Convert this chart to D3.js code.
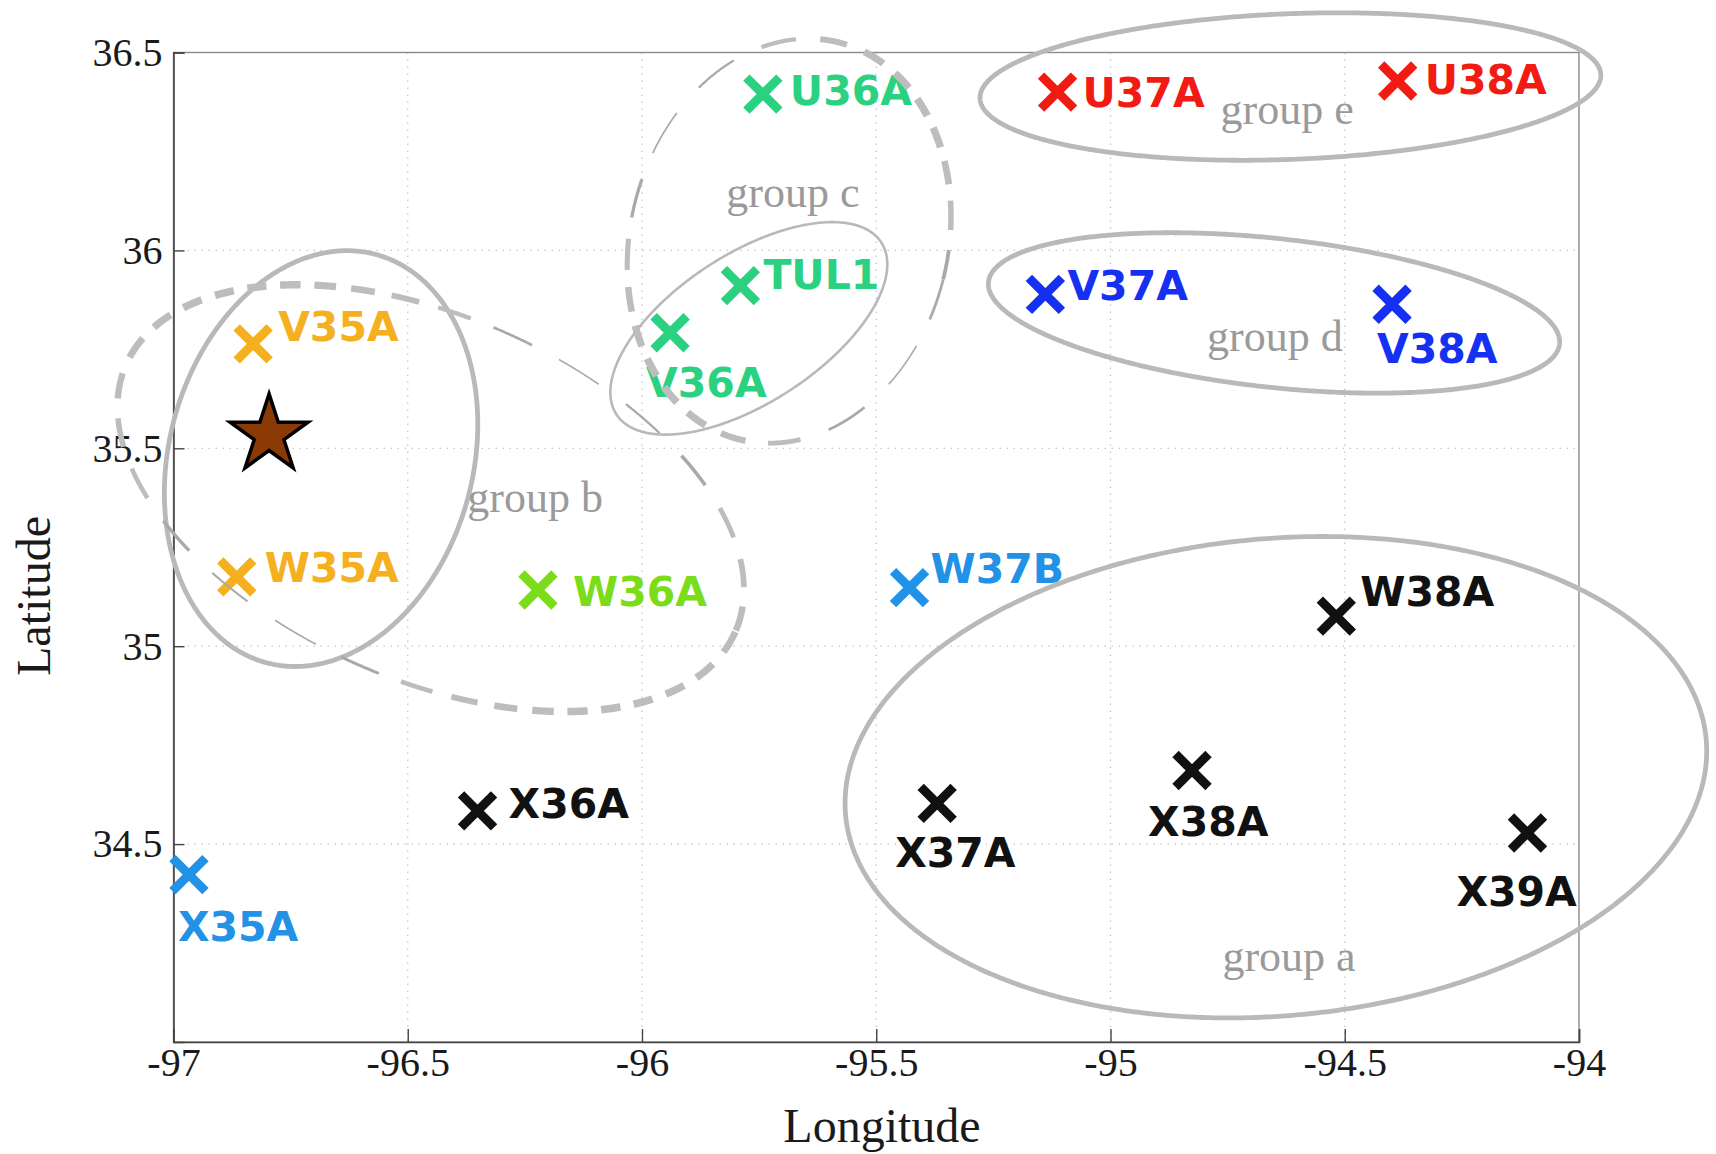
<!DOCTYPE html>
<html><head><meta charset="utf-8">
<script src="https://cdn.jsdelivr.net/npm/d3@7"></script>
<style>body{margin:0;background:#fff}svg{display:block}</style>
</head><body>
<svg id="chart" width="1716" height="1154"></svg>
<script>
// ---------------- data ----------------
const stations = ["U36A","U37A","U38A","TUL1","V35A","V36A","V37A","V38A","W35A","W36A","W37B","W38A","X35A","X36A","X37A","X38A","X39A"];
const stationLon = [-95.742,-95.113,-94.387,-95.790,-96.830,-95.940,-95.139,-94.399,-96.865,-96.222,-95.429,-94.518,-96.967,-96.351,-95.370,-94.826,-94.110];
const stationLat = [36.395,36.400,36.428,35.911,35.764,35.792,35.889,35.864,35.175,35.142,35.148,35.076,34.423,34.584,34.603,34.686,34.528];
const stationColor = ["#2ad181","#f21b14","#f21b14","#2ad181","#f5b01f","#2ad181","#1530f0","#1530f0","#f5b01f","#7bdc1a","#2192e6","#111111","#2192e6","#111111","#111111","#111111","#111111"];
const epicenterLon = [-96.796];
const epicenterLat = [35.534];
const xTicks = [-97,-96.5,-96,-95.5,-95,-94.5,-94];
const yTicks = [34.5,35,35.5,36,36.5];
const xDomain = [-97,-94];
const yDomain = [34,36.5];
const xTitle = "Longitude";
const yTitle = "Latitude";
// group annotations (ellipses: centre lon/lat, semi-axes in degrees, rotation)
const groupNames = ["group a","group b","group c","group d","group e"];
const groupLabelLon = [-94.619,-96.228,-95.678,-94.649,-94.623];
const groupLabelLat = [34.205,35.364,36.135,35.771,36.345];
const ellipseId   = ["a","b","c","d","e","b2","c2"];
const ellipseLon  = [-94.647,-96.685,-95.772,-94.651,-94.616,-96.451,-95.686];
const ellipseLat  = [34.669,35.474,35.803,35.842,36.414,35.374,36.024];
const ellipseRx   = [0.922,0.3245,0.337,0.613,0.663,0.710,0.339];
const ellipseRy   = [0.603,0.534,0.188,0.188,0.184,0.459,0.517];
const ellipseRot  = [-5,15,-33,6.2,-2.2,23.7,14];
const ellipseDashed = [false,false,false,false,false,true,true];

// ---------------- layout ----------------
const svg = d3.select("#chart");
const L = 173.5, R = 1579, T = 52.5, B = 1042;
const x = d3.scaleLinear().domain(xDomain).range([L, R]);
const y = d3.scaleLinear().domain(yDomain).range([B, T]);
const grey = "#b9b9b9";
const labelOffsets = {U36A:[27,-4],U37A:[25,0],U38A:[27,-2],TUL1:[23,-11],V35A:[25,-18],W35A:[28,-10],
  W36A:[35,1],V37A:[22,-9],W37B:[21,-19],W38A:[24,-25],X36A:[31,-8],V36A:[-24,50],V38A:[-15,44],
  X35A:[-11,52],X37A:[-42,49],X38A:[-44,51],X39A:[-71,58]};
const ellipseStyle = {a:{w:4.8},b:{w:4.8},c:{w:2.6},d:{w:4.8},e:{w:4.8},b2:{phase:45},c2:{phase:310}};

// grid
const grid = svg.append("g");
grid.selectAll(".gx").data(xTicks.filter(d => d > xDomain[0] && d < xDomain[1])).join("line")
  .attr("x1", d => x(d)).attr("x2", d => x(d)).attr("y1", T).attr("y2", B)
  .attr("stroke", "#c8c8c8").attr("stroke-width", 1.3).attr("stroke-dasharray", "1.5,5.5");
grid.selectAll(".gy").data(yTicks.filter(d => d > yDomain[0] && d < yDomain[1])).join("line")
  .attr("y1", d => y(d)).attr("y2", d => y(d)).attr("x1", L).attr("x2", R)
  .attr("stroke", "#c8c8c8").attr("stroke-width", 1.3).attr("stroke-dasharray", "1.5,5.5");

// frame
svg.append("rect").attr("x", L).attr("y", T).attr("width", R - L).attr("height", B - T)
  .attr("fill", "none").attr("stroke", "#8a8a8a").attr("stroke-width", 1.4);

// axes
const fmt = d => String(d);
const xAxis = svg.append("g").attr("transform", `translate(0,${B})`)
  .call(d3.axisBottom(x).tickValues(xTicks).tickFormat(fmt).tickSize(-13).tickPadding(6));
const yAxis = svg.append("g").attr("transform", `translate(${L},0)`)
  .call(d3.axisLeft(y).tickValues(yTicks).tickFormat(fmt).tickSize(-11).tickPadding(11));
[xAxis, yAxis].forEach(a => {
  a.select(".domain").attr("stroke", "#444").attr("stroke-width", 1.6);
  a.selectAll(".tick line").attr("stroke", "#444").attr("stroke-width", 1.4);
  a.selectAll(".tick text").attr("fill", "#1a1a1a")
    .style("font-family", "'Liberation Serif', serif").style("font-size", "40px");
});

// titles
svg.append("text").attr("x", 882).attr("y", 1142).attr("text-anchor", "middle")
  .style("font-family", "'Liberation Serif', serif").style("font-size", "48px").attr("fill", "#1a1a1a").text(xTitle);
svg.append("text").attr("transform", "translate(50,596) rotate(-90)").attr("text-anchor", "middle")
  .style("font-family", "'Liberation Serif', serif").style("font-size", "48px").attr("fill", "#1a1a1a").text(yTitle);

// station markers and labels
const st = stations.map((s, i) => ({name: s, lon: stationLon[i], lat: stationLat[i], color: stationColor[i]}));
const mk = svg.append("g");
const h = 16.5;
mk.selectAll("path.x").data(st).join("path")
  .attr("d", d => { const cx = x(d.lon), cy = y(d.lat);
    return `M${cx-h},${cy-h}L${cx+h},${cy+h}M${cx-h},${cy+h}L${cx+h},${cy-h}`; })
  .attr("stroke", d => d.color).attr("stroke-width", 9).attr("fill", "none");
mk.selectAll("text").data(st).join("text")
  .attr("x", d => x(d.lon) + labelOffsets[d.name][0])
  .attr("y", d => y(d.lat) + labelOffsets[d.name][1])
  .attr("dy", "0.36em")
  .attr("fill", d => d.color)
  .style("font-family", "'DejaVu Sans', sans-serif").style("font-weight", "bold").style("font-size", "41px")
  .text(d => d.name);

// ellipses
const lineGen = d3.line();
function ellipsePts(i, n) {
  const cx = x(ellipseLon[i]), cy = y(ellipseLat[i]);
  const rx = Math.abs(x(ellipseLon[i] + ellipseRx[i]) - cx);
  const ry = Math.abs(y(ellipseLat[i] + ellipseRy[i]) - cy);
  const th = ellipseRot[i] * Math.PI / 180;
  const pts = [];
  for (let k = 0; k <= n; k++) {
    const t = 2 * Math.PI * k / n, ex = rx * Math.cos(t), ey = ry * Math.sin(t);
    pts.push([cx + ex * Math.cos(th) - ey * Math.sin(th), cy + ex * Math.sin(th) + ey * Math.cos(th)]);
  }
  return {pts, cx, cy};
}
const eg = svg.append("g");
ellipseId.forEach((id, i) => {
  if (!ellipseDashed[i]) {
    const {pts} = ellipsePts(i, 720);
    eg.append("path").attr("d", lineGen(pts) + "Z").attr("fill", "none")
      .attr("stroke", grey).attr("stroke-width", ellipseStyle[id].w);
  } else {
    const {pts, cx, cy} = ellipsePts(i, 3000);
    const cum = [0];
    for (let k = 1; k < pts.length; k++) cum.push(cum[k-1] + Math.hypot(pts[k][0]-pts[k-1][0], pts[k][1]-pts[k-1][1]));
    const total = cum[cum.length - 1];
    let s = 0, k = 0;
    const phase = ellipseStyle[id].phase;
    while (s < total - 5) {
      while (k < cum.length - 1 && cum[k] < s) k++;
      const p = pts[k];
      const a = Math.atan2(p[1] - cy, p[0] - cx) * 180 / Math.PI;
      const f = 0.5 + 0.5 * Math.cos(2 * (a - phase) * Math.PI / 180);
      const w = 1.6 + 6 * f;
      const dash = 20 + 28 * (1 - f), gap = 13 + 20 * (1 - f);
      const e = Math.min(s + dash, total);
      const seg = [];
      let j = k;
      while (j < cum.length && cum[j] <= e) { seg.push(pts[j]); j++; }
      if (seg.length > 1) eg.append("path").attr("d", lineGen(seg)).attr("fill", "none")
        .attr("stroke", f > 0.4 ? "#bdbdbd" : "#a9a9a9").attr("stroke-width", w);
      s = e + gap;
    }
  }
});

// group labels
svg.append("g").selectAll("text").data(groupNames).join("text")
  .attr("x", (d, i) => x(groupLabelLon[i])).attr("y", (d, i) => y(groupLabelLat[i]))
  .attr("dy", "0.22em").attr("text-anchor", "middle").attr("fill", "#9a9a9a")
  .style("font-family", "'Liberation Serif', serif").style("font-size", "44px").text(d => d);

// epicentre star
svg.append("g").selectAll("path").data(epicenterLon).join("path")
  .attr("transform", (d, i) => `translate(${x(d)},${y(epicenterLat[i])})`)
  .attr("d", d3.symbol(d3.symbolStar, 41 * 41 / 0.8908130915292852))
  .attr("fill", "#8b3a05").attr("stroke", "#000").attr("stroke-width", 3.5).attr("stroke-linejoin", "miter");
</script>
</body></html>
